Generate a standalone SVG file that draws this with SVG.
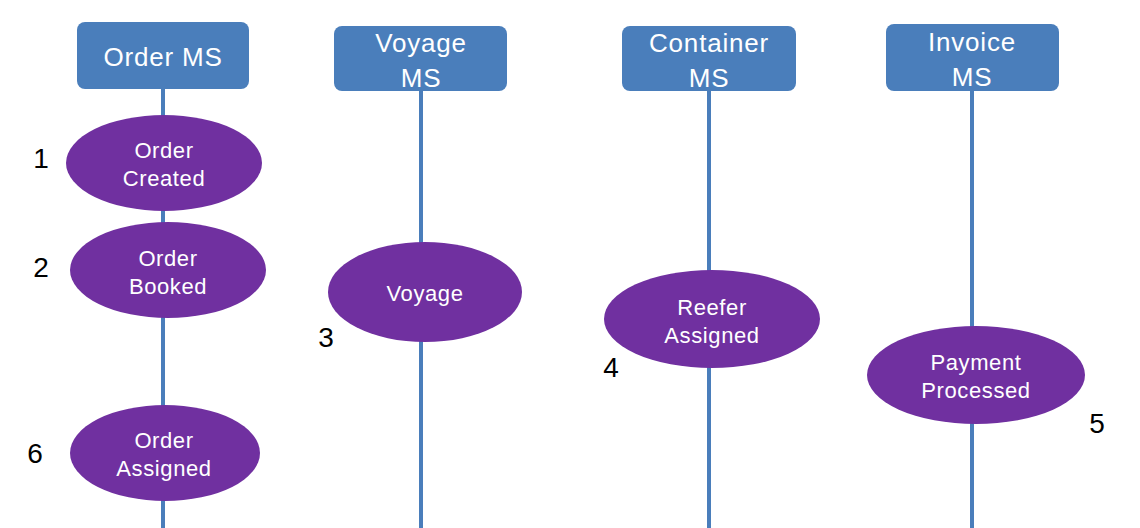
<svg xmlns="http://www.w3.org/2000/svg" width="1140" height="528" viewBox="0 0 1140 528">
<style>
.box{fill:#4a7ebb}
.ev{fill:#7030a0}
.life{stroke:#4a7ebb;stroke-width:4}
.bt{font-family:"Liberation Sans",Arial,sans-serif;font-size:26px;letter-spacing:0.8px;fill:#fff;text-anchor:middle}
.et{font-family:"Liberation Sans",Arial,sans-serif;font-size:22px;letter-spacing:0.6px;fill:#fff;text-anchor:middle}
.num{font-family:"Liberation Sans",Arial,sans-serif;font-size:28px;fill:#000;text-anchor:middle}
</style>
<rect width="1140" height="528" fill="#fff"/>
<g id="connectors">
<line class="life" x1="163" y1="88" x2="163" y2="528"/>
<line class="life" x1="421" y1="90" x2="421" y2="528"/>
<line class="life" x1="709" y1="90" x2="709" y2="528"/>
<line class="life" x1="972" y1="90" x2="972" y2="528"/>
</g>
<g id="order-ms"><rect class="box" x="77" y="22" width="172" height="67" rx="8"/><text class="bt" x="163" y="66">Order MS</text></g>
<g id="voyage-ms"><rect class="box" x="334" y="26" width="173" height="65" rx="8"/><text class="bt" x="421" y="52">Voyage</text><text class="bt" x="421" y="87">MS</text></g>
<g id="container-ms"><rect class="box" x="622" y="26" width="174" height="65" rx="8"/><text class="bt" x="709" y="52">Container</text><text class="bt" x="709" y="87">MS</text></g>
<g id="invoice-ms"><rect class="box" x="886" y="24" width="173" height="67" rx="8"/><text class="bt" x="972" y="51">Invoice</text><text class="bt" x="972" y="86">MS</text></g>
<g id="order-created"><ellipse class="ev" cx="164" cy="163" rx="98" ry="48"/><text class="et" x="164" y="158">Order</text><text class="et" x="164" y="186">Created</text></g>
<g id="order-booked"><ellipse class="ev" cx="168" cy="270" rx="98" ry="48"/><text class="et" x="168" y="266">Order</text><text class="et" x="168" y="294">Booked</text></g>
<g id="voyage"><ellipse class="ev" cx="425" cy="292" rx="97" ry="50"/><text class="et" x="425" y="301">Voyage</text></g>
<g id="reefer-assigned"><ellipse class="ev" cx="712" cy="319" rx="108" ry="49"/><text class="et" x="712" y="315">Reefer</text><text class="et" x="712" y="343">Assigned</text></g>
<g id="payment-processed"><ellipse class="ev" cx="976" cy="375" rx="109" ry="49"/><text class="et" x="976" y="370">Payment</text><text class="et" x="976" y="398">Processed</text></g>
<g id="order-assigned"><ellipse class="ev" cx="165" cy="453" rx="95" ry="48"/><text class="et" x="164" y="448">Order</text><text class="et" x="164" y="476">Assigned</text></g>
<g id="numbers">
<text class="num" x="41" y="168">1</text>
<text class="num" x="41" y="277">2</text>
<text class="num" x="326" y="347">3</text>
<text class="num" x="611" y="377">4</text>
<text class="num" x="1097" y="433">5</text>
<text class="num" x="35" y="463">6</text>
</g>
</svg>
